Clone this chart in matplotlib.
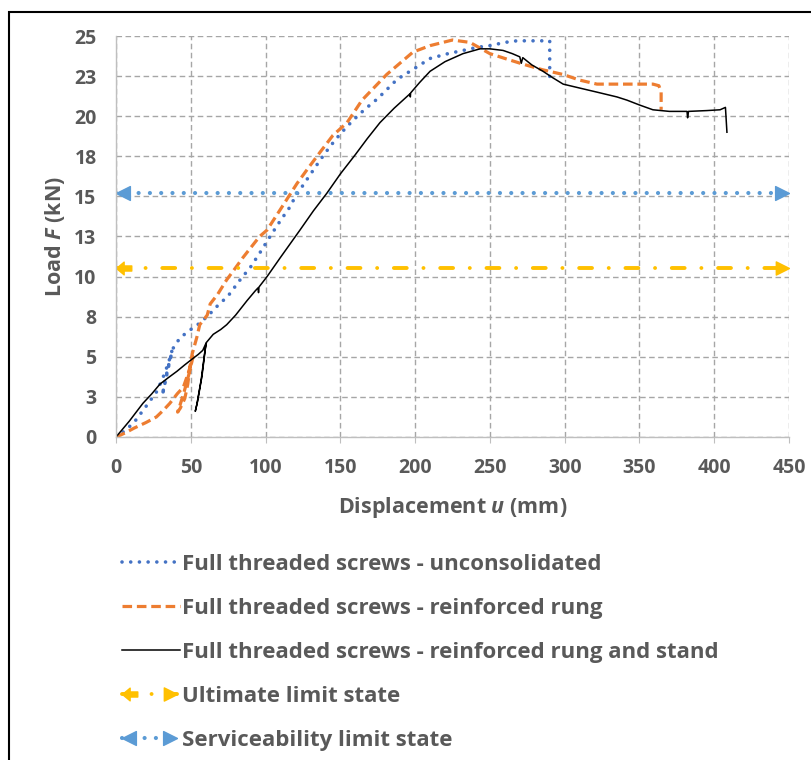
import matplotlib.pyplot as plt
from matplotlib.patches import Rectangle
from matplotlib.legend_handler import HandlerBase
from matplotlib.lines import Line2D

# Valores: desplazamiento u (mm) y carga F (kN)
x_sin_consolidar = [0, 6, 12, 20, 27, 31, 35, 37.5, 34, 31, 33, 36, 38.5, 43, 50, 56, 62, 67,
                    75, 83, 90, 97, 103, 110, 116, 120, 128, 136, 143, 150, 158, 166, 175,
                    188, 200, 210, 222, 232, 242, 250, 260, 268, 280, 290, 290]
y_sin_consolidar = [0, 0.4, 0.9, 1.9, 2.8, 3.6, 4.6, 5.4, 3.9, 2.6, 3.6, 4.8, 5.6, 6.2, 6.7, 7.1,
                    7.6, 8.1, 8.8, 9.8, 10.6, 11.6, 12.5, 13.5, 14.3, 15.0, 16.1, 17.2, 18.1,
                    18.9, 19.7, 20.4, 21.1, 22.3, 23.0, 23.6, 23.9, 24.1, 24.3, 24.4, 24.6,
                    24.7, 24.7, 24.7, 22.4]

x_peldano = [0, 6, 12, 20, 27, 32, 36, 41, 45, 48, 50, 51.5, 49, 45.5, 42.5, 41.2, 43, 46, 48,
             49.5, 51, 54, 56, 61, 63, 68, 74, 78, 85, 96, 101, 110, 121, 128, 136, 145, 154.5,
             164.5, 181, 198.6, 210, 225, 236.7, 250, 260, 272, 285, 299, 310, 321.6, 340, 359,
             363, 364.5, 364.5]
y_peldano = [0, 0.25, 0.55, 0.9, 1.25, 1.7, 2.1, 2.7, 3.1, 3.9, 4.5, 5.0, 4.0, 2.8, 1.9, 1.55,
             1.8, 2.4, 3.3, 4.4, 5.2, 6.2, 7.0, 7.6, 8.3, 8.9, 9.8, 10.3, 11.2, 12.5, 12.9, 14.2,
             15.8, 16.7, 17.7, 18.8, 19.6, 21.0, 22.6, 24.0, 24.4, 24.75, 24.6, 23.9, 23.6, 23.25,
             22.9, 22.6, 22.25, 22.0, 22.0, 22.0, 21.9, 21.5, 20.4]

x_peldano_montante = [0, 9, 18, 24, 29.4, 35, 40.8, 46, 50.8, 55, 58, 60.2, 57.5, 54.5, 53, 54,
                      57, 59.5, 60.5, 65, 70, 74, 80, 87.6, 93, 95, 95.3, 95.6, 101, 110, 123,
                      132, 141, 150, 160, 168, 176.5, 186, 196.6, 196.8, 197.0, 203, 210, 220,
                      232, 243.4, 250, 258.8, 265, 270, 271, 272, 278, 285.5, 292, 299, 308,
                      321.6, 335, 341.7, 350, 359, 370, 381.8, 382.2, 382.8, 395, 403.9, 407.5,
                      408.5]
y_peldano_montante = [0, 1.0, 2.1, 2.7, 3.3, 3.7, 4.1, 4.5, 4.85, 5.15, 5.4, 5.85, 3.8, 2.2, 1.6,
                      2.0, 3.6, 5.4, 5.9, 6.4, 6.7, 7.0, 7.6, 8.5, 9.1, 9.3, 9.0, 9.35, 10.0,
                      11.2, 12.9, 14.1, 15.2, 16.4, 17.6, 18.6, 19.6, 20.5, 21.4, 21.2, 21.45,
                      22.1, 22.8, 23.4, 23.9, 24.2, 24.2, 24.1, 23.9, 23.7, 23.3, 23.65, 23.2,
                      22.8, 22.4, 22.0, 21.8, 21.5, 21.2, 21.0, 20.7, 20.4, 20.3, 20.3, 19.9,
                      20.3, 20.35, 20.4, 20.55, 19.0]

x_limite = [0, 450]
y_ultimo = [10.55, 10.55]
y_servicio = [15.2, 15.2]

ticks_x = [0, 50, 100, 150, 200, 250, 300, 350, 400, 450]
ticks_y = [0, 2.5, 5, 7.5, 10, 12.5, 15, 17.5, 20, 22.5, 25]
etiquetas_y = ['0', '3', '5', '8', '10', '13', '15', '18', '20', '23', '25']

nombres = ['Full threaded screws - unconsolidated',
           'Full threaded screws - reinforced rung',
           'Full threaded screws - reinforced rung and stand',
           'Ultimate limit state',
           'Serviceability limit state']

gris_texto = '#595959'
plt.rcParams['font.family'] = ['Open Sans', 'DejaVu Sans']
plt.rcParams['font.weight'] = 'bold'
plt.rcParams['mathtext.fontset'] = 'custom'
plt.rcParams['mathtext.rm'] = 'Open Sans:bold'
plt.rcParams['mathtext.it'] = 'Open Sans:italic:bold'


class ManejadorFlecha(HandlerBase):
    # Dibuja en la leyenda la linea con una punta a cada lado
    def create_artists(self, legend, orig_handle, xdescent, ydescent, width, height,
                       fontsize, trans):
        linea, marca_izq, marca_der = orig_handle
        y = height / 2 - ydescent
        x0, x1 = -xdescent, width - xdescent - 2
        trazo = Line2D([x0, x1], [y, y])
        trazo.update_from(linea)
        izq = Line2D([x0], [y])
        izq.update_from(marca_izq)
        izq.set_markevery(None)
        der = Line2D([x1], [y])
        der.update_from(marca_der)
        der.set_markevery(None)
        for a in (trazo, izq, der):
            a.set_clip_box(None)
            a.set_clip_path(None)
            a.set_clip_on(False)
            a.set_transform(trans)
        return [trazo, izq, der]


fig = plt.figure(figsize=(8.12, 7.6), dpi=100)
ax = fig.add_axes([116 / 812, 1 - 437 / 760, (789 - 116) / 812, (437 - 36) / 760])

# Puntas con el vertice en el extremo de la linea
flecha_izq = [(0, 0), (2, 1), (2, -1), (0, 0)]
flecha_der = [(0, 0), (-2, 1), (-2, -1), (0, 0)]
flecha_larga = [(0, 0), (1.2, 1), (1.2, 0.4), (2.4, 0.4), (2.4, -0.4), (1.2, -0.4), (1.2, -1),
                (0, 0)]

l1, = ax.plot(x_sin_consolidar, y_sin_consolidar, color='#4472C4', lw=2.6,
              linestyle=(0, (0.01, 2.4)), dash_capstyle='round', solid_capstyle='round')
l2, = ax.plot(x_peldano, y_peldano, color='#ED7D31', lw=2.3, linestyle=(0, (3.0, 1.5)))
l3, = ax.plot(x_peldano_montante, y_peldano_montante, color='black', lw=1.1)

# Estado limite ultimo
l4, = ax.plot(x_limite, y_ultimo, color='#FFC000', lw=2.8,
              linestyle=(0, (3.3, 4.3, 0.01, 4.3)), dash_capstyle='round')
m4a, = ax.plot(x_limite, y_ultimo, ls='none', marker=flecha_larga, ms=22, color='#FFC000',
               markevery=[0], clip_on=False)
m4b, = ax.plot(x_limite, y_ultimo, ls='none', marker=flecha_der, ms=19, color='#FFC000',
               markevery=[1], clip_on=False)

# Estado limite de servicio
l5, = ax.plot(x_limite, y_servicio, color='#5B9BD5', lw=3.0,
              linestyle=(0, (0.01, 2.7)), dash_capstyle='round')
m5a, = ax.plot(x_limite, y_servicio, ls='none', marker=flecha_izq, ms=20, color='#5B9BD5',
               markevery=[0], clip_on=False)
m5b, = ax.plot(x_limite, y_servicio, ls='none', marker=flecha_der, ms=20, color='#5B9BD5',
               markevery=[1], clip_on=False)

ax.set_xlim(0, 450)
ax.set_ylim(0, 25)
ax.set_xticks(ticks_x)
ax.set_yticks(ticks_y)
ax.set_yticklabels(etiquetas_y)
ax.grid(True, color='#a6a6a6', linestyle=(0, (4, 2.5)), linewidth=1.0)
ax.set_axisbelow(True)
for lado in ['top', 'right']:
    ax.spines[lado].set_visible(False)
for lado in ['left', 'bottom']:
    ax.spines[lado].set_color('#bfbfbf')
    ax.spines[lado].set_linewidth(1.0)
ax.tick_params(axis='x', direction='out', length=4, color='#bfbfbf', pad=11,
               labelsize=14, labelcolor=gris_texto)
ax.tick_params(axis='y', length=0, pad=14, labelsize=14, labelcolor=gris_texto)

ax.set_xlabel(r'Displacement $\mathit{u}$ (mm)', fontsize=15.5, fontweight='bold',
              color=gris_texto, labelpad=12)
ax.set_ylabel(r'Load $\mathit{F}$ (kN)', fontsize=15.5, fontweight='bold',
              color=gris_texto, labelpad=5)

handles = [l1, l2, l3, (l4, m4a, m4b), (l5, m5a, m5b)]
fig.legend(handles, nombres, loc='upper left', bbox_to_anchor=(122 / 812, 1 - 554 / 760),
           frameon=False, borderpad=0, borderaxespad=0, numpoints=1, fontsize=16,
           labelcolor=gris_texto, handlelength=2.6, handletextpad=0.12, labelspacing=1.03,
           handler_map={tuple: ManejadorFlecha()})

# Marco de la figura
fig.add_artist(Rectangle((9 / 812, -0.1), 1.0, 748 / 760 + 0.1, transform=fig.transFigure,
                         fill=False, lw=1.5, edgecolor='black'))

fig.savefig('out.png', dpi=100)
